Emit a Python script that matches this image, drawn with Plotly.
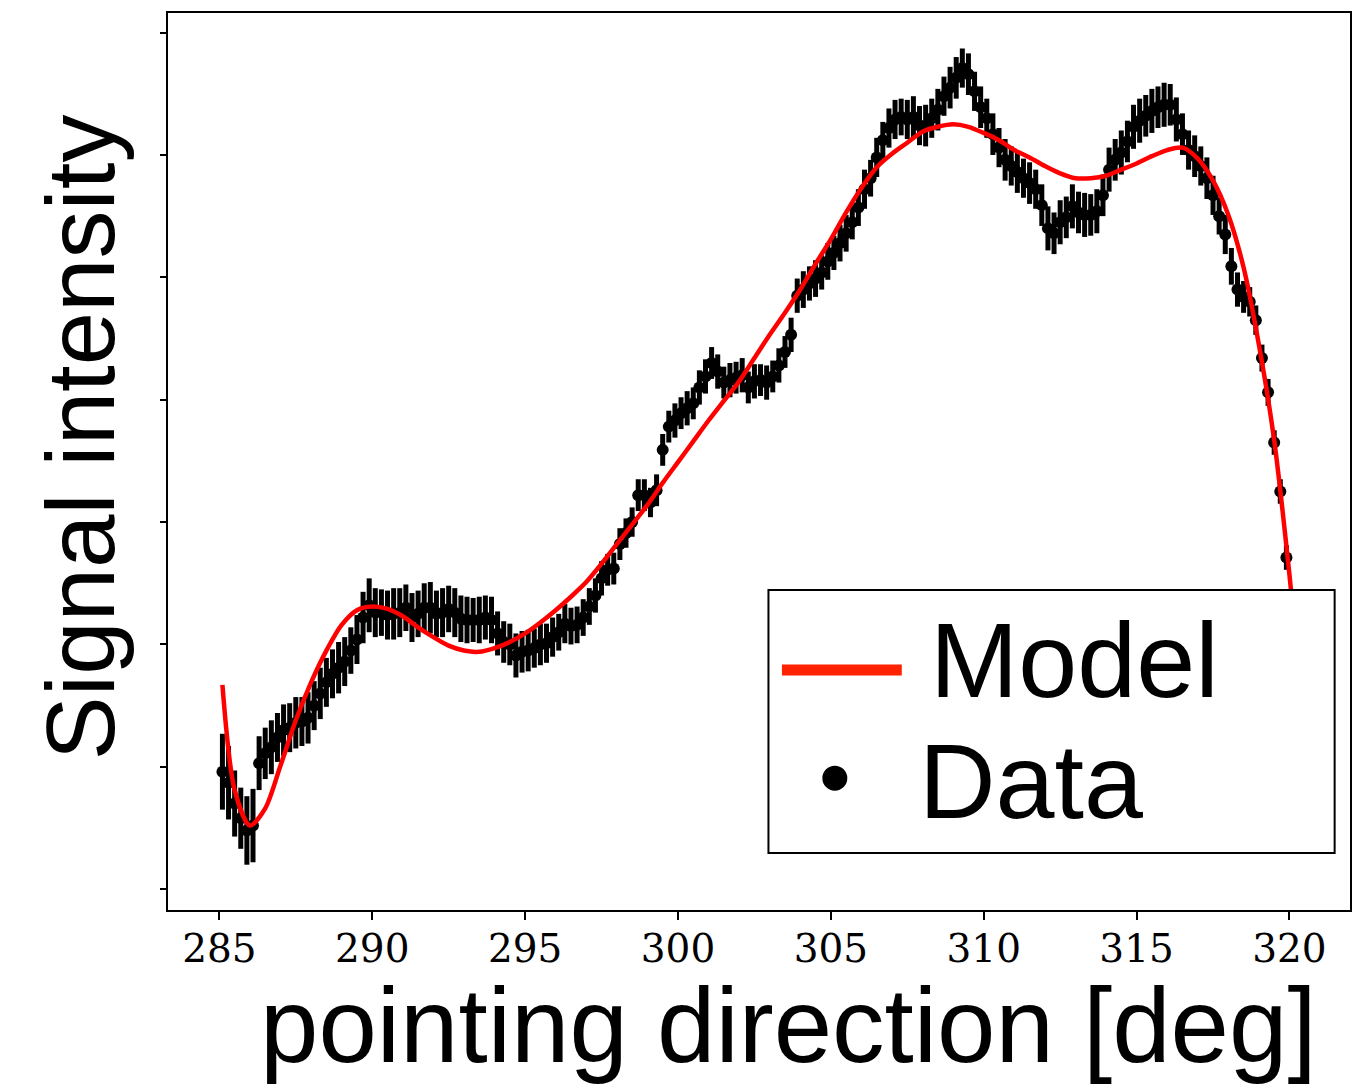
import plotly.graph_objects as go

# ---------------- data ----------------
direction = [
    285.1, 285.3, 285.5, 285.7, 285.9, 286.1, 286.3, 286.5, 286.7, 286.9,
    287.1, 287.3, 287.5, 287.7, 287.9, 288.1, 288.3, 288.5, 288.7, 288.9,
    289.1, 289.3, 289.5, 289.7, 289.9, 290.1, 290.3, 290.5, 290.7, 290.9,
    291.1, 291.3, 291.5, 291.7, 291.9, 292.1, 292.3, 292.5, 292.7, 292.9,
    293.1, 293.3, 293.5, 293.7, 293.9, 294.1, 294.3, 294.5, 294.7, 294.9,
    295.1, 295.3, 295.5, 295.7, 295.9, 296.1, 296.3, 296.5, 296.7, 296.9,
    297.1, 297.3, 297.5, 297.7, 297.9, 298.1, 298.3, 298.5, 298.7, 298.9,
    299.1, 299.3, 299.5, 299.7, 299.9, 300.1, 300.3, 300.5, 300.7, 300.9,
    301.1, 301.3, 301.5, 301.7, 301.9, 302.1, 302.3, 302.5, 302.7, 302.9,
    303.1, 303.3, 303.5, 303.7, 303.9, 304.1, 304.3, 304.5, 304.7, 304.9,
    305.1, 305.3, 305.5, 305.7, 305.9, 306.1, 306.3, 306.5, 306.7, 306.9,
    307.1, 307.3, 307.5, 307.7, 307.9, 308.1, 308.3, 308.5, 308.7, 308.9,
    309.1, 309.3, 309.5, 309.7, 309.9, 310.1, 310.3, 310.5, 310.7, 310.9,
    311.1, 311.3, 311.5, 311.7, 311.9, 312.1, 312.3, 312.5, 312.7, 312.9,
    313.1, 313.3, 313.5, 313.7, 313.9, 314.1, 314.3, 314.5, 314.7, 314.9,
    315.1, 315.3, 315.5, 315.7, 315.9, 316.1, 316.3, 316.5, 316.7, 316.9,
    317.1, 317.3, 317.5, 317.7, 317.9, 318.1, 318.3, 318.5, 318.7, 318.9,
    319.1, 319.3, 319.5, 319.7, 319.9, 320.1, 320.3,
]

signal = [
    0.96, 0.87, 0.70, 0.58, 0.48, 0.52, 1.03, 1.11, 1.16, 1.24,
    1.30, 1.32, 1.36, 1.37, 1.40, 1.50, 1.60, 1.69, 1.76, 1.81,
    1.86, 1.95, 2.04, 2.22, 2.32, 2.26, 2.26, 2.24, 2.25, 2.26,
    2.30, 2.22, 2.25, 2.30, 2.30, 2.25, 2.26, 2.29, 2.26, 2.21,
    2.20, 2.20, 2.20, 2.22, 2.20, 2.09, 2.02, 2.00, 1.91, 1.94,
    1.95, 1.97, 2.00, 2.01, 2.06, 2.10, 2.17, 2.15, 2.16, 2.22,
    2.31, 2.40, 2.54, 2.61, 2.62, 2.82, 2.91, 3.00, 3.22, 3.22,
    3.16, 3.26, 3.59, 3.78, 3.83, 3.89, 3.93, 3.97, 4.10, 4.19,
    4.30, 4.23, 4.14, 4.16, 4.18, 4.20, 4.10, 4.15, 4.16, 4.14,
    4.19, 4.28, 4.39, 4.53, 4.85, 4.90, 4.95, 4.99, 5.04, 5.13,
    5.20, 5.28, 5.36, 5.45, 5.57, 5.72, 5.81, 5.98, 6.12, 6.22,
    6.29, 6.31, 6.29, 6.31, 6.24, 6.24, 6.30, 6.37, 6.48, 6.55,
    6.63, 6.71, 6.66, 6.52, 6.39, 6.30, 6.17, 6.06, 5.96, 5.91,
    5.86, 5.81, 5.77, 5.72, 5.59, 5.40, 5.36, 5.45, 5.49, 5.58,
    5.53, 5.51, 5.51, 5.54, 5.67, 5.88, 5.96, 6.02, 6.11, 6.23,
    6.28, 6.32, 6.36, 6.39, 6.41, 6.41, 6.29, 6.17, 6.04, 5.99,
    5.91, 5.81, 5.67, 5.50, 5.35, 5.09, 4.90, 4.84, 4.80, 4.65,
    4.34, 4.06, 3.65, 3.25, 2.71, 2.16, 1.55,
]

signal_err = [
    0.31, 0.30, 0.27, 0.25, 0.28, 0.30, 0.22, 0.21, 0.22, 0.20,
    0.21, 0.20, 0.21, 0.20, 0.21, 0.20, 0.21, 0.20, 0.20, 0.21,
    0.20, 0.19, 0.20, 0.21, 0.22, 0.20, 0.19, 0.20, 0.21, 0.20,
    0.19, 0.20, 0.19, 0.20, 0.21, 0.19, 0.20, 0.19, 0.20, 0.19,
    0.19, 0.18, 0.19, 0.18, 0.19, 0.18, 0.17, 0.17, 0.18, 0.17,
    0.17, 0.16, 0.17, 0.16, 0.16, 0.15, 0.16, 0.15, 0.15, 0.15,
    0.15, 0.14, 0.14, 0.13, 0.13, 0.13, 0.12, 0.12, 0.13, 0.13,
    0.12, 0.13, 0.13, 0.13, 0.14, 0.13, 0.14, 0.13, 0.14, 0.14,
    0.13, 0.14, 0.13, 0.14, 0.13, 0.14, 0.13, 0.14, 0.13, 0.14,
    0.13, 0.14, 0.13, 0.14, 0.14, 0.15, 0.14, 0.15, 0.14, 0.15,
    0.14, 0.15, 0.15, 0.14, 0.15, 0.16, 0.15, 0.16, 0.15, 0.16,
    0.16, 0.15, 0.16, 0.17, 0.16, 0.17, 0.16, 0.17, 0.16, 0.17,
    0.17, 0.16, 0.17, 0.16, 0.17, 0.16, 0.17, 0.16, 0.17, 0.16,
    0.17, 0.16, 0.17, 0.16, 0.17, 0.18, 0.17, 0.18, 0.17, 0.18,
    0.17, 0.18, 0.17, 0.18, 0.17, 0.18, 0.17, 0.18, 0.17, 0.18,
    0.18, 0.17, 0.18, 0.17, 0.18, 0.17, 0.18, 0.17, 0.16, 0.17,
    0.16, 0.17, 0.16, 0.15, 0.16, 0.15, 0.14, 0.13, 0.12, 0.12,
    0.11, 0.11, 0.10, 0.10, 0.10, 0.10, 0.10,
]

model_x = [
    285.1, 285.5, 286.0, 286.5, 287.0, 287.5, 288.0, 288.5, 289.0, 289.5,
    290.0, 290.5, 291.0, 291.5, 292.0, 292.5, 293.0, 293.5, 294.0, 294.5,
    295.0, 295.5, 296.0, 296.5, 297.0, 297.5, 298.0, 298.5, 299.0, 299.5,
    300.0, 300.5, 301.0, 301.5, 302.0, 302.5, 303.0, 303.5, 304.0, 304.5,
    305.0, 305.5, 306.0, 306.5, 307.0, 307.5, 308.0, 308.5, 309.0, 309.5,
    310.0, 310.5, 311.0, 311.5, 312.0, 312.5, 313.0, 313.5, 314.0, 314.5,
    315.0, 315.5, 316.0, 316.5, 317.0, 317.5, 318.0, 318.5, 319.0, 319.5,
    320.0, 320.5,
]

model_y = [
    1.67, 0.81, 0.52, 0.66, 1.01, 1.38, 1.69, 1.95, 2.16, 2.28,
    2.31, 2.29, 2.23, 2.14, 2.06, 1.99, 1.95, 1.94, 1.97, 2.02,
    2.09, 2.18, 2.28, 2.39, 2.51, 2.66, 2.82, 2.98, 3.14, 3.32,
    3.49, 3.66, 3.83, 3.99, 4.15, 4.34, 4.53, 4.71, 4.90, 5.11,
    5.31, 5.53, 5.73, 5.90, 6.01, 6.10, 6.19, 6.23, 6.25, 6.23,
    6.18, 6.12, 6.04, 5.98, 5.91, 5.85, 5.81, 5.81, 5.83, 5.88,
    5.93, 5.99, 6.04, 6.06, 5.97, 5.79, 5.51, 5.08, 4.45, 3.67,
    2.57, 1.30,
]

x_ticks = [285, 290, 295, 300, 305, 310, 315, 320]
y_ticks = [0, 1, 2, 3, 4, 5, 6, 7]

SANS = "Liberation Sans, Arial, sans-serif"

fig = go.Figure()

fig.add_trace(go.Scatter(
    x=direction, y=signal, mode="markers", name="Data",
    marker=dict(color="black", size=12),
    error_y=dict(type="data", array=signal_err, color="black",
                 thickness=5, width=0),
    showlegend=False,
))

fig.add_trace(go.Scatter(
    x=model_x, y=model_y, mode="lines", name="Model",
    line=dict(color="#ff0000", width=4.5, shape="spline", smoothing=0.8),
    showlegend=False,
))

# hand-drawn legend (matplotlib style) in paper coordinates
shapes = [
    dict(type="rect", xref="paper", yref="paper", x0=0.508, x1=0.987,
         y0=0.0635, y1=0.3567, fillcolor="white",
         line=dict(color="black", width=2), layer="above"),
    dict(type="line", xref="paper", yref="paper", x0=0.5194, x1=0.6208,
         y0=0.2676, y1=0.2676, line=dict(color="#ff2200", width=11),
         layer="above"),
    dict(type="circle", xref="paper", yref="paper", x0=0.5536, x1=0.5747,
         y0=0.1330, y1=0.1609, fillcolor="black",
         line=dict(color="black", width=0), layer="above"),
]

annotations = [
    dict(text="Model", xref="paper", yref="paper", x=0.6430, y=0.2787,
         xanchor="left", yanchor="middle", showarrow=False,
         font=dict(family=SANS, size=106, color="black")),
    dict(text="Data", xref="paper", yref="paper", x=0.6334, y=0.1438,
         xanchor="left", yanchor="middle", showarrow=False,
         font=dict(family=SANS, size=106, color="black")),
    dict(text="pointing direction [deg]", xref="paper", yref="paper",
         x=0.5253, y=-0.1285, xanchor="center", yanchor="middle",
         showarrow=False, font=dict(family=SANS, size=105, color="black")),
    dict(text="Signal intensity", xref="paper", yref="paper",
         x=-0.0743, y=0.5273, xanchor="center", yanchor="middle",
         textangle=-90, showarrow=False,
         font=dict(family=SANS, size=96, color="black")),
]

fig.update_layout(
    width=1353, height=1085,
    margin=dict(l=168, r=1, t=13, b=175),
    paper_bgcolor="white", plot_bgcolor="white",
    showlegend=False,
    shapes=shapes, annotations=annotations,
    xaxis=dict(
        range=[283.32, 321.98], tickvals=x_ticks,
        ticks="outside", ticklen=8, tickwidth=1.5, tickcolor="black",
        ticklabelstandoff=-5,
        showline=True, linewidth=2, linecolor="black", mirror=True,
        showgrid=False, zeroline=False,
        tickfont=dict(family="DejaVu Serif", size=39, color="black"),
    ),
    yaxis=dict(
        range=[-0.17, 7.16], tickvals=y_ticks, showticklabels=False,
        ticks="outside", ticklen=6, tickwidth=1.5, tickcolor="black",
        showline=True, linewidth=2, linecolor="black", mirror=True,
        showgrid=False, zeroline=False,
    ),
)

fig.write_html("out.html")
